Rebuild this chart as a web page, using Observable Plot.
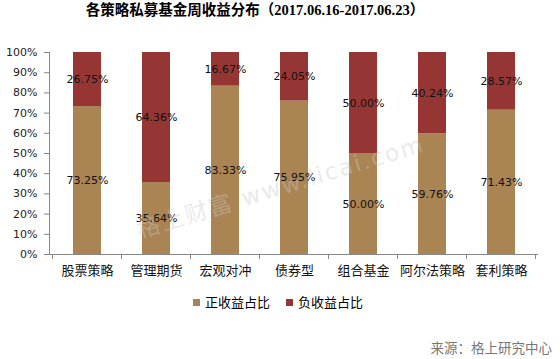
<!DOCTYPE html>
<html><head><meta charset="utf-8">
<script src="https://cdn.jsdelivr.net/npm/d3@7"></script>
<script src="https://cdn.jsdelivr.net/npm/@observablehq/plot@0.6"></script>
<style>
html,body{margin:0;padding:0;background:#fff;}
#wrap{position:relative;width:560px;height:359px;overflow:hidden;font-family:"Noto Sans CJK SC","DejaVu Sans",sans-serif;}
#title{position:absolute;left:0;width:510px;top:1px;text-align:center;font-weight:bold;font-size:14.5px;line-height:18px;color:#000;font-family:"Liberation Serif","Noto Sans CJK SC",serif;}
#legend{position:absolute;top:293px;left:0;width:560px;height:18px;font-size:13px;line-height:18px;color:#000;}
.li{position:absolute;top:0;}
.sw{display:inline-block;width:7px;height:7px;margin-right:5px;vertical-align:1px;}
#source{position:absolute;right:8px;top:338px;font-size:13.5px;line-height:18px;color:#777;}
#wm{position:absolute;left:110px;top:168px;width:340px;text-align:center;font-family:"DejaVu Sans","Noto Sans CJK SC",sans-serif;font-size:23px;letter-spacing:2px;color:rgba(200,200,200,0.4);transform:rotate(-17deg);transform-origin:50% 50%;pointer-events:none;white-space:nowrap;}
</style></head>
<body>
<div id="wrap">
<div id="title"></div>
<div id="chart"></div>
<div id="legend"></div>
<div id="source"></div>
<div id="wm"></div>
</div>
<script>
const titleText = "各策略私募基金周收益分布（2017.06.16-2017.06.23）";
const categories = ["股票策略","管理期货","宏观对冲","债券型","组合基金","阿尔法策略","套利策略"];
const positive = [73.25,35.64,83.33,75.95,50.00,59.76,71.43];
const negative = [26.75,64.36,16.67,24.05,50.00,40.24,28.57];
const seriesNames = ["正收益占比","负收益占比"];
const seriesColors = ["#AB8454","#963634"];
const yTicks = [0,10,20,30,40,50,60,70,80,90,100];
const sourceText = "来源：格上研究中心";
const watermarkText = "格上财富 www.licai.com";

const rows = [];
categories.forEach((c,i)=>{
  rows.push({cat:c, type:seriesNames[0], value:positive[i]});
  rows.push({cat:c, type:seriesNames[1], value:negative[i]});
});

document.getElementById("title").textContent = titleText;
document.getElementById("source").textContent = sourceText;
document.getElementById("wm").textContent = watermarkText;

const W = 560, H = 359, mL = 49, mR = 22, mT = 52, mB = 105;

const plot = Plot.plot({
  width: W, height: H,
  marginLeft: mL, marginRight: mR, marginTop: mT, marginBottom: mB,
  style: {fontFamily: "DejaVu Sans, sans-serif", fontSize: "11px", color: "#222", background: "transparent"},
  x: {type: "band", domain: categories, paddingInner: 0.6, paddingOuter: 0.3, align: 0.5, label: null},
  y: {domain: [0,100], label: null},
  color: {domain: seriesNames, range: seriesColors},
  marks: [
    Plot.barY(rows, Plot.stackY({x: "cat", y: "value", fill: "type", order: null})),
    Plot.text(rows, Plot.stackY({x: "cat", y: "value", z: "type", order: null, text: d => d.value.toFixed(2) + "%", fill: "#111", fontSize: 11, fontFamily: "DejaVu Sans, sans-serif"})),
    Plot.axisY({ticks: yTicks, tickFormat: d => d + "%", tickSize: 5, tickPadding: 7, stroke: "#888", fontSize: 11, fill: "#222"}),
    Plot.axisX({tickSize: 0, tickPadding: 11, fontSize: 13, fontFamily: "Noto Sans CJK SC, sans-serif", fill: "#111"}),
    Plot.frame({anchor: "left", stroke: "#888"}),
    Plot.ruleY([0], {stroke: "#888"})
  ]
});
document.getElementById("chart").appendChild(plot);

// category boundary ticks below the x axis (Excel style)
const xs = plot.scale("x");
const ys = plot.scale("y");
const step = xs.step !== undefined ? xs.step : (W - mL - mR) / categories.length;
const y0 = ys.apply(0);
const svg = d3.select(plot);
const bounds = categories.map(c => xs.apply(c) + xs.bandwidth/2 - step/2);
bounds.push(bounds[bounds.length-1] + step);
svg.append("g").selectAll("line").data(bounds).join("line")
  .attr("x1", d => d).attr("x2", d => d)
  .attr("y1", y0).attr("y2", y0 + 5)
  .attr("stroke", "#888").attr("shape-rendering","crispEdges");

// legend
const leg = document.getElementById("legend");
const legX = [193, 286];
seriesNames.forEach((n,i)=>{
  const d = document.createElement("div");
  d.className = "li";
  d.style.left = legX[i] + "px";
  const s = document.createElement("span");
  s.className = "sw"; s.style.background = seriesColors[i];
  d.appendChild(s);
  d.appendChild(document.createTextNode(n));
  leg.appendChild(d);
});
</script>
</body></html>
